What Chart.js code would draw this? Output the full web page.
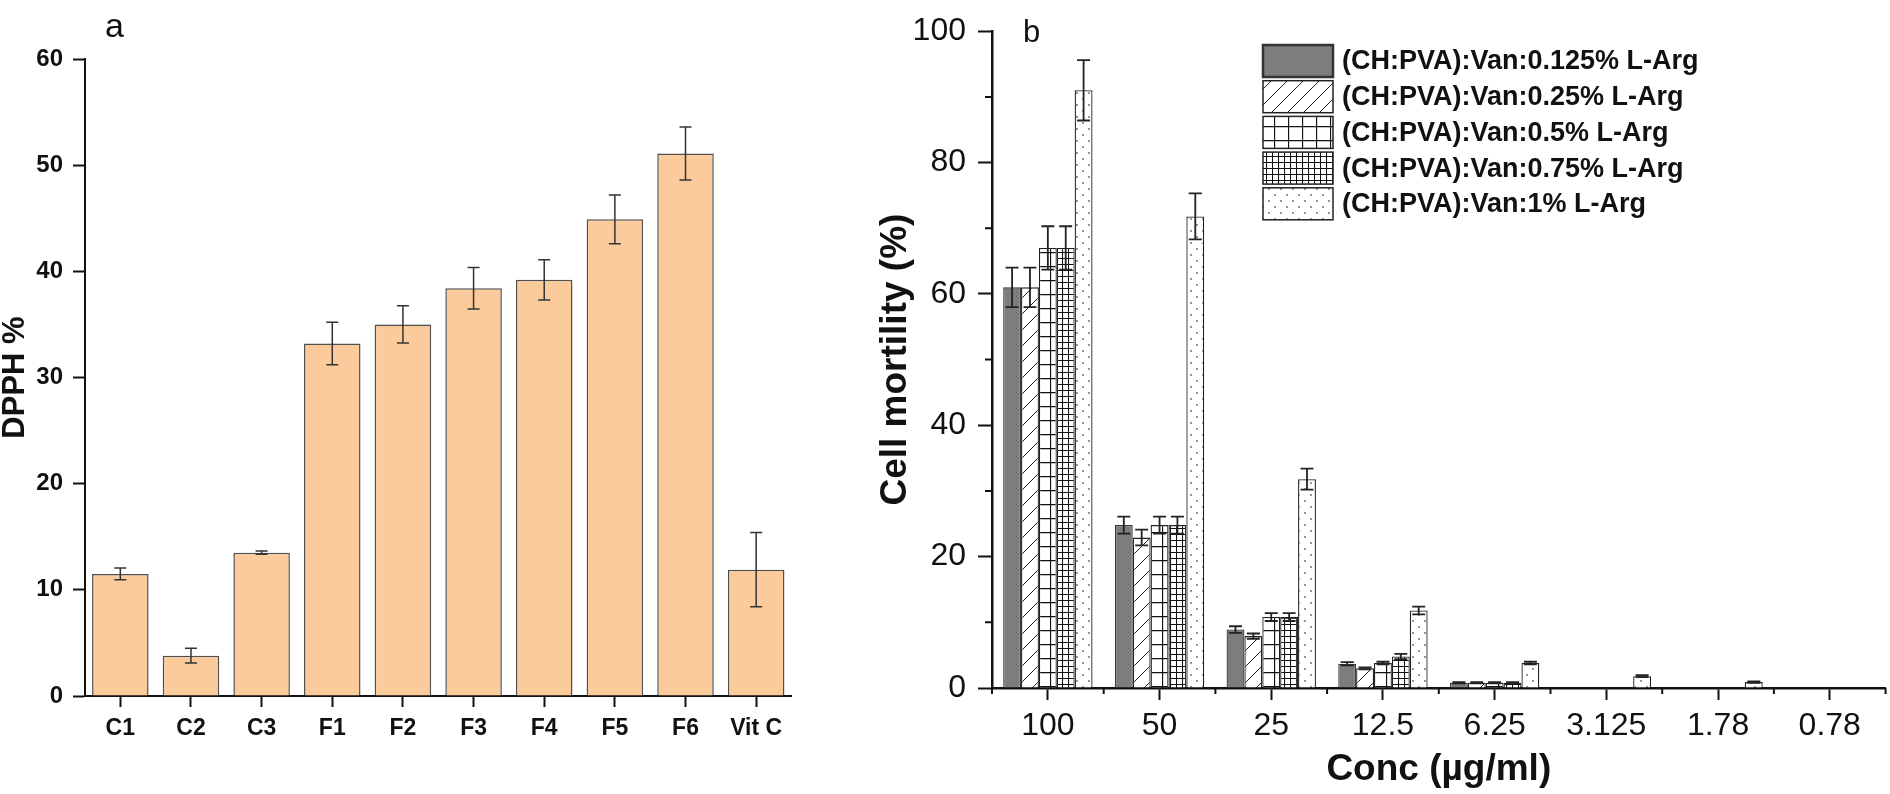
<!DOCTYPE html>
<html lang="en">
<head>
<meta charset="UTF-8">
<title>DPPH % and cell mortility</title>
<script src="https://cdn.jsdelivr.net/npm/chart.js/dist/chart.umd.min.js"></script>
<style>
  html, body { margin: 0; padding: 0; background: #fff; }
  body { width: 1890px; height: 794px; position: relative; overflow: hidden; }
  .panel { position: absolute; top: 0; height: 794px; }
  #boxA { left: 0; width: 840px; }
  #boxB { left: 840px; width: 1050px; }
</style>
</head>
<body>
<div class="panel" id="boxA"><canvas id="chartA"></canvas></div>
<div class="panel" id="boxB"><canvas id="chartB"></canvas></div>
<script>
// ---- panel a data
const dpphLabels = ['C1', 'C2', 'C3', 'F1', 'F2', 'F3', 'F4', 'F5', 'F6', 'Vit C'];
const dpphValues = [11.5, 3.8, 13.5, 33.2, 35.0, 38.4, 39.2, 44.9, 51.1, 11.9];
const dpphErrors = [0.55, 0.7, 0.15, 2.0, 1.75, 1.95, 1.9, 2.3, 2.5, 3.5];

// ---- panel b data
const concLabels = ['100', '50', '25', '12.5', '6.25', '3.125', '1.78', '0.78'];
const argLabels = [
    '(CH:PVA):Van:0.125% L-Arg',
    '(CH:PVA):Van:0.25% L-Arg',
    '(CH:PVA):Van:0.5% L-Arg',
    '(CH:PVA):Van:0.75% L-Arg',
    '(CH:PVA):Van:1% L-Arg'
];
const mort0125 = [61, 24.8, 8.9, 3.7, 0.8, 0, 0, 0];
const mort025  = [61, 22.9, 7.9, 3.0, 0.8, 0, 0, 0];
const mort05   = [67, 24.8, 10.8, 3.8, 0.8, 0, 0, 0];
const mort075  = [67, 24.8, 10.8, 4.8, 0.8, 0, 0, 0];
const mort1    = [91, 71.8, 31.8, 11.8, 3.8, 1.8, 0.9, 0];
const err0125 = [3.0, 1.3, 0.5, 0.25, 0.1, 0, 0, 0];
const err025  = [3.0, 1.2, 0.4, 0.15, 0.1, 0, 0, 0];
const err05   = [3.3, 1.3, 0.6, 0.2, 0.1, 0, 0, 0];
const err075  = [3.3, 1.3, 0.6, 0.4, 0.1, 0, 0, 0];
const err1    = [4.6, 3.5, 1.6, 0.6, 0.2, 0.15, 0.1, 0];

const FONT = "'Liberation Sans', Arial, sans-serif";

// error bars drawn from the bar elements and the y scale
const errorBars = {
    id: 'errorBars',
    afterDatasetsDraw(chart, args, opts) {
        const ctx = chart.ctx;
        const y = chart.scales.y;
        chart.data.datasets.forEach((ds, di) => {
            if (!ds.errors) return;
            chart.getDatasetMeta(di).data.forEach((bar, i) => {
                const e = ds.errors[i];
                if (!e) return;
                const v = ds.data[i];
                const yt = y.getPixelForValue(v + e);
                const yb = y.getPixelForValue(Math.max(v - e, 0));
                const h = opts.cap / 2;
                ctx.save();
                ctx.strokeStyle = opts.color;
                ctx.lineWidth = opts.width;
                ctx.beginPath();
                ctx.moveTo(bar.x, yt); ctx.lineTo(bar.x, yb);
                ctx.moveTo(bar.x - h, yt); ctx.lineTo(bar.x + h, yt);
                ctx.moveTo(bar.x - h, yb); ctx.lineTo(bar.x + h, yb);
                ctx.stroke();
                ctx.restore();
            });
        });
    }
};

// small texts like "a" / "b"
const panelLabel = {
    id: 'panelLabel',
    afterDraw(chart, args, opts) {
        const ctx = chart.ctx;
        ctx.save();
        ctx.fillStyle = '#111';
        ctx.font = opts.font;
        ctx.textBaseline = 'alphabetic';
        ctx.fillText(opts.text, opts.x, opts.y);
        ctx.restore();
    }
};

// minor ticks for panel b (between categories and at odd tens)
const minorTicks = {
    id: 'minorTicks',
    afterDraw(chart) {
        const ctx = chart.ctx;
        const x = chart.scales.x, y = chart.scales.y;
        const area = chart.chartArea;
        ctx.save();
        ctx.strokeStyle = '#111';
        ctx.lineWidth = 2;
        ctx.beginPath();
        [10, 30, 50, 70, 90].forEach(v => {
            const py = y.getPixelForValue(v);
            ctx.moveTo(area.left, py); ctx.lineTo(area.left - 7, py);
        });
        const step = x.getPixelForValue(1) - x.getPixelForValue(0);
        for (let i = 0; i <= concLabels.length; i++) {
            const px = x.getPixelForValue(0) + (i - 0.5) * step;
            ctx.moveTo(px, area.bottom); ctx.lineTo(px, area.bottom + 6);
        }
        ctx.stroke();
        ctx.restore();
    }
};

// legend drawn inside the plot, top right
const boxLegend = {
    id: 'boxLegend',
    afterDraw(chart, args, opts) {
        const ctx = chart.ctx;
        ctx.save();
        ctx.font = opts.font;
        ctx.textBaseline = 'middle';
        chart.data.datasets.forEach((ds, i) => {
            const top = opts.top + i * opts.step;
            ctx.fillStyle = ds.backgroundColor;
            ctx.fillRect(opts.left, top, opts.w, opts.h);
            ctx.strokeStyle = i === 0 ? '#333' : '#222';
            ctx.lineWidth = i === 0 ? 2.5 : 1.5;
            ctx.strokeRect(opts.left, top, opts.w, opts.h);
            ctx.fillStyle = '#111';
            ctx.fillText(ds.label, opts.left + opts.w + 9, top + opts.h / 2 + 1);
        });
        ctx.restore();
    }
};

// ---- patterns
function tile(target, w, h, draw) {
    const c = document.createElement('canvas');
    c.width = w; c.height = h;
    const g = c.getContext('2d');
    g.fillStyle = '#fff';
    g.fillRect(0, 0, w, h);
    draw(g, w, h);
    return target.getContext('2d').createPattern(c, 'repeat');
}
const canvasB = document.getElementById('chartB');
const patDark = tile(canvasB, 4, 4, (g) => {
    g.fillStyle = '#7e7e7e'; g.fillRect(0, 0, 4, 4);
    g.fillStyle = '#747474'; g.fillRect(0, 0, 1, 1); g.fillRect(2, 2, 1, 1);
});
const patHatch = tile(canvasB, 16, 16, (g, w, h) => {
    g.strokeStyle = '#222'; g.lineWidth = 1;
    g.beginPath();
    g.moveTo(0, h); g.lineTo(w, 0);
    g.moveTo(-2, 2); g.lineTo(2, -2);
    g.moveTo(w - 2, h + 2); g.lineTo(w + 2, h - 2);
    g.stroke();
});
const patGrid = tile(canvasB, 14, 14, (g) => {
    g.strokeStyle = '#111'; g.lineWidth = 1.3;
    g.beginPath();
    g.moveTo(0.5, 0); g.lineTo(0.5, 14);
    g.moveTo(0, 0.5); g.lineTo(14, 0.5);
    g.stroke();
});
const patDense = tile(canvasB, 6, 6, (g) => {
    g.strokeStyle = '#111'; g.lineWidth = 1.1;
    g.beginPath();
    g.moveTo(0.5, 0); g.lineTo(0.5, 6);
    g.moveTo(0, 0.5); g.lineTo(6, 0.5);
    g.stroke();
});
const patDots = tile(canvasB, 12, 12, (g) => {
    g.fillStyle = '#666';
    g.beginPath(); g.arc(3, 3, 0.9, 0, Math.PI * 2); g.fill();
    g.beginPath(); g.arc(9, 9, 0.9, 0, Math.PI * 2); g.fill();
});

// ---- panel a
new Chart(document.getElementById('chartA'), {
    type: 'bar',
    data: {
        labels: dpphLabels,
        datasets: [{
            label: 'DPPH %',
            data: dpphValues,
            errors: dpphErrors,
            backgroundColor: '#fccb9b',
            borderColor: 'rgba(60,60,60,0.9)',
            borderWidth: 1.5,
            barPercentage: 0.8,
            categoryPercentage: 1.0
        }]
    },
    options: {
        responsive: true,
        maintainAspectRatio: false,
        animation: false,
        layout: { padding: { top: 59, right: 48.5, left: 0, bottom: 0 } },
        plugins: {
            legend: { display: false },
            tooltip: { enabled: false },
            errorBars: { color: '#333', width: 1.5, cap: 12 },
            panelLabel: { text: 'a', x: 105, y: 37, font: '34px ' + FONT }
        },
        scales: {
            x: {
                afterFit(scale) { scale.height = 98; },
                grid: { display: true, drawOnChartArea: false, offset: false, tickLength: 11, tickWidth: 2, tickColor: '#111' },
                border: { display: true, color: '#111', width: 2 },
                ticks: { color: '#111', padding: 8, font: { family: FONT, size: 23, weight: 'bold' } }
            },
            y: {
                min: 0, max: 60,
                afterFit(scale) { scale.width = 85; },
                grid: { display: true, drawOnChartArea: false, tickLength: 12, tickWidth: 2, tickColor: '#111' },
                border: { display: true, color: '#111', width: 2 },
                ticks: { stepSize: 10, color: '#111', padding: 10, font: { family: FONT, size: 24, weight: 'bold' } },
                title: { display: true, text: 'DPPH %', color: '#111', padding: 0, font: { family: FONT, size: 31, weight: 'bold', lineHeight: 1.0 } }
            }
        }
    },
    plugins: [errorBars, panelLabel]
});

// ---- panel b
const barStyle = { borderColor: '#222', borderWidth: 1.3, barPercentage: 1.0, categoryPercentage: 0.8 };
new Chart(canvasB, {
    type: 'bar',
    data: {
        labels: concLabels,
        datasets: [
            Object.assign({ label: argLabels[0], data: mort0125, errors: err0125, backgroundColor: patDark }, barStyle, { borderColor: '#3a3a3a' }),
            Object.assign({ label: argLabels[1], data: mort025, errors: err025, backgroundColor: patHatch }, barStyle),
            Object.assign({ label: argLabels[2], data: mort05, errors: err05, backgroundColor: patGrid }, barStyle),
            Object.assign({ label: argLabels[3], data: mort075, errors: err075, backgroundColor: patDense }, barStyle),
            Object.assign({ label: argLabels[4], data: mort1, errors: err1, backgroundColor: patDots }, barStyle)
        ]
    },
    options: {
        responsive: true,
        maintainAspectRatio: false,
        animation: false,
        layout: { padding: { top: 20.5, right: 4.4, left: 0, bottom: 0 } },
        plugins: {
            legend: { display: false },
            tooltip: { enabled: false },
            errorBars: { color: '#222', width: 1.8, cap: 13 },
            panelLabel: { text: 'b', x: 183, y: 42, font: '31px ' + FONT },
            boxLegend: { left: 423, top: 45, w: 70, h: 32, step: 35.7, font: 'bold 27px ' + FONT }
        },
        scales: {
            x: {
                afterFit(scale) { scale.height = 106; },
                grid: { display: true, drawOnChartArea: false, offset: false, tickLength: 12, tickWidth: 2, tickColor: '#111' },
                border: { display: true, color: '#111', width: 2.5 },
                ticks: { color: '#111', padding: 7, font: { family: FONT, size: 32 } },
                title: { display: true, text: 'Conc (µg/ml)', color: '#111', padding: { top: 0, bottom: 2 }, font: { family: FONT, size: 37, weight: 'bold', lineHeight: 1.2 } }
            },
            y: {
                min: 0, max: 100,
                afterFit(scale) { scale.width = 152; },
                grid: { display: true, drawOnChartArea: false, tickLength: 14, tickWidth: 2, tickColor: '#111' },
                border: { display: true, color: '#111', width: 2.5 },
                ticks: { stepSize: 20, color: '#111', padding: 12, font: { family: FONT, size: 32 } },
                title: { display: true, text: 'Cell mortility (%)', color: '#111', padding: { top: 34, bottom: 0 }, font: { family: FONT, size: 37, weight: 'bold', lineHeight: 1.2 } }
            }
        }
    },
    plugins: [errorBars, minorTicks, boxLegend, panelLabel]
});
</script>
</body>
</html>
